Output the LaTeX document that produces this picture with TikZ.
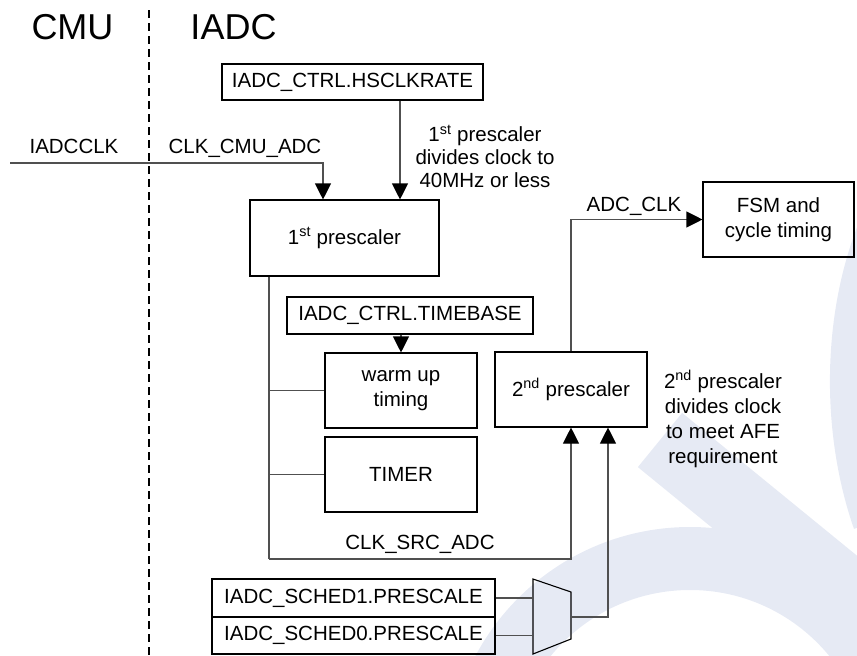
\documentclass[tikz,border=0pt]{standalone}
\usepackage{fontspec}
\setmainfont{Liberation Sans}
\usetikzlibrary{arrows.meta}
\definecolor{wmark}{RGB}{230,234,244}
\definecolor{wirecol}{RGB}{80,80,80}
\newcommand{\bodyfont}{\fontsize{20.5}{25}\selectfont}
\newcommand{\titlefont}{\fontsize{36}{40}\selectfont}

\begin{document}
\begin{tikzpicture}[x=1pt, y=-1pt,
  box/.style={draw=black, line width=1.1pt, inner sep=0pt, align=center, font=\bodyfont},
  lbl/.style={inner sep=0pt, anchor=base, font=\bodyfont},
  note/.style={inner sep=0pt, align=center, font=\bodyfont},
  wire/.style={wirecol, line width=1.1pt},
  arr/.style={wire, -{Triangle[width=16pt,length=16pt,color=black]}}]
  \useasboundingbox (0,0) rectangle (857,656);

  % watermark
  \begin{scope}
    \clip (0,0) rectangle (857,656);
    \fill[wmark, even odd rule] (690,770) circle[radius=243] (690,770) circle[radius=180];
    \draw[wmark, line width=70pt] (660,440) -- (960,685);
    \draw[wmark, line width=55pt] (900,200) .. controls (850,290) and (845,420) .. (880,520);
  \end{scope}

  % headings and divider
  \node[lbl, font=\titlefont] (cmu) at (72.5,39) {CMU};
  \node[lbl, font=\titlefont] (iadc) at (233.5,39) {IADC};
  \coordinate (divtop) at (149,10);
  \coordinate (divbot) at (149,656);
  \draw[line width=1.8pt, dash pattern=on 8pt off 5pt] (divtop) -- (divbot);

  % blocks
  \node[box, minimum width=261pt, minimum height=36pt] (hsclk) at (352.5,82) {IADC\_CTRL.HSCLKRATE};
  \node[box, minimum width=189pt, minimum height=76pt] (prescA) at (344.5,238) {1\textsuperscript{st} prescaler};
  \node[box, minimum width=246pt, minimum height=37pt] (timebase) at (410,315.5) {IADC\_CTRL.TIMEBASE};
  \node[box, minimum width=152pt, minimum height=75pt] (warmup) at (401,390.5) {warm up\\timing};
  \node[box, minimum width=152pt, minimum height=75pt] (timer) at (401,474.5) {TIMER};
  \node[box, minimum width=152pt, minimum height=75pt] (prescB) at (571,389.5) {2\textsuperscript{nd} prescaler};
  \node[box, minimum width=151pt, minimum height=75pt] (fsm) at (778.5,219.5) {FSM and\\cycle timing};
  \node[box, minimum width=283pt, minimum height=38pt] (sched1) at (353.5,598) {IADC\_SCHED1.PRESCALE};
  \node[box, minimum width=283pt, minimum height=37pt] (sched0) at (353.5,635.5) {IADC\_SCHED0.PRESCALE};

  % mux
  \coordinate (m1) at (533,579);
  \coordinate (m2) at (571,592);
  \coordinate (m3) at (571,639);
  \coordinate (m4) at (533,654);
  \coordinate (mout) at (571,617);
  \draw[black, line width=1.1pt] (m1) -- (m2) -- (m3) -- (m4) -- cycle;

  % labels
  \node[lbl] (iadcclk) at (74,153) {IADCCLK};
  \node[lbl] (cmuadc) at (245,153) {CLK\_CMU\_ADC};
  \node[lbl] (adcclk) at (634,211) {ADC\_CLK};
  \node[lbl] (srcadc) at (420,549) {CLK\_SRC\_ADC};
  \node[note, font=\fontsize{20.5}{23}\selectfont] (noteA) at (485,156.5) {1\textsuperscript{st} prescaler\\divides clock to\\40MHz or less};
  \node[note] (noteB) at (723,419) {2\textsuperscript{nd} prescaler\\divides clock\\to meet AFE\\requirement};

  % guides
  \coordinate (clkin) at (10,163);
  \coordinate (xclk) at (323,0);
  \coordinate (xrate) at (400,0);
  \coordinate (xsrc) at (269,0);
  \coordinate (ysrc) at (0,559);
  \coordinate (xmux) at (608,0);

  \begin{scope}[wire]
    \draw[arr] (clkin) -| (prescA.north -| xclk);
    \draw[arr] (hsclk.south -| xrate) -- (prescA.north -| xrate);
    \draw[arr] (timebase.south -| warmup.north) -- (warmup.north);
    \draw (prescA.south -| xsrc) -- (xsrc |- ysrc);
    \draw[arr] (xsrc |- ysrc) -| (prescB.south);
    \draw (xsrc |- warmup.west) -- (warmup.west);
    \draw (xsrc |- timer.west) -- (timer.west);
    \draw[arr] (prescB.north) |- (fsm.west);
    \draw (sched1.east) -- (sched1.east -| m1);
    \draw (sched0.east) -- (sched0.east -| m1);
    \draw[arr] (mout) -| (xmux |- prescB.south);
  \end{scope}
\end{tikzpicture}
\end{document}
